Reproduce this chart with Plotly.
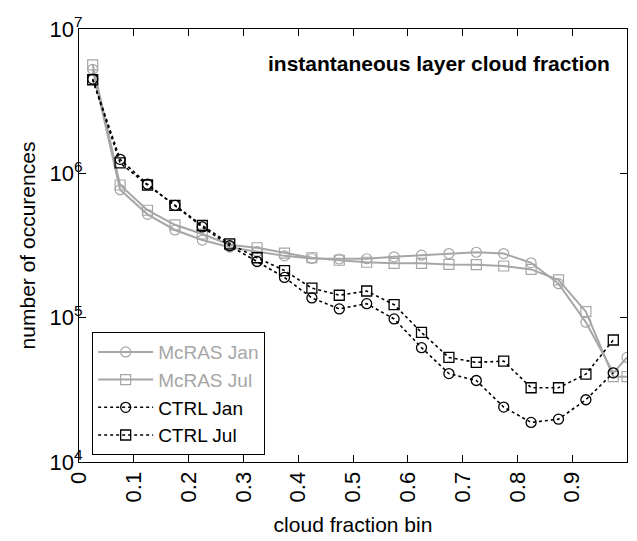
import plotly.graph_objects as go

# Cloud fraction bin centres (McRAS also has a fully-cloudy bin at 1.0)
bins = [0.025, 0.075, 0.125, 0.175, 0.225, 0.275, 0.325, 0.375, 0.425, 0.475,
        0.525, 0.575, 0.625, 0.675, 0.725, 0.775, 0.825, 0.875, 0.925, 0.975]
bins_mcras = bins + [1.0]

mcras_jan = [5.25e6, 7.7e5, 5.2e5, 4.05e5, 3.45e5, 3.08e5, 2.87e5, 2.68e5, 2.57e5, 2.55e5,
             2.56e5, 2.64e5, 2.71e5, 2.78e5, 2.84e5, 2.78e5, 2.4e5, 1.72e5, 9.3e4, 4.15e4, 5.3e4]
mcras_jul = [5.65e6, 8.3e5, 5.55e5, 4.4e5, 3.8e5, 3.2e5, 3.05e5, 2.8e5, 2.6e5, 2.5e5,
             2.42e5, 2.38e5, 2.38e5, 2.34e5, 2.33e5, 2.28e5, 2.16e5, 1.83e5, 1.1e5, 3.9e4, 3.9e4]
ctrl_jan = [4.5e6, 1.25e6, 8.4e5, 6.0e5, 4.25e5, 3.15e5, 2.45e5, 1.9e5, 1.37e5, 1.15e5,
            1.25e5, 9.8e4, 6.2e4, 4.1e4, 3.67e4, 2.4e4, 1.88e4, 1.98e4, 2.7e4, 4.15e4]
ctrl_jul = [4.45e6, 1.18e6, 8.3e5, 6.0e5, 4.35e5, 3.25e5, 2.6e5, 2.12e5, 1.6e5, 1.43e5,
            1.53e5, 1.23e5, 7.9e4, 5.3e4, 4.9e4, 5.0e4, 3.27e4, 3.27e4, 4.06e4, 7.0e4]

x_ticks = [0, 0.1, 0.2, 0.3, 0.4, 0.5, 0.6, 0.7, 0.8, 0.9, 1]
x_tick_text = ["0", "0.1", "0.2", "0.3", "0.4", "0.5", "0.6", "0.7", "0.8", "0.9", "1"]
y_ticks = [1e4, 1e5, 1e6, 1e7]
y_tick_text = ["10<sup>4</sup>", "10<sup>5</sup>", "10<sup>6</sup>", "10<sup>7</sup>"]

GREY = "#a6a6a6"
FONT = "Liberation Sans, Arial, sans-serif"

fig = go.Figure()
fig.add_trace(go.Scatter(
    x=bins_mcras, y=mcras_jan, mode="lines+markers",
    name=f"<span style='color:{GREY}'>McRAS Jan</span>",
    line=dict(color=GREY, width=2),
    marker=dict(symbol="circle-open", size=10, color=GREY, line=dict(width=1.2)),
))
fig.add_trace(go.Scatter(
    x=bins_mcras, y=mcras_jul, mode="lines+markers",
    name=f"<span style='color:{GREY}'>McRAS Jul</span>",
    line=dict(color=GREY, width=2),
    marker=dict(symbol="square-open", size=10, color=GREY, line=dict(width=1.2)),
))
fig.add_trace(go.Scatter(
    x=bins, y=ctrl_jan, mode="lines+markers", name="CTRL Jan",
    line=dict(color="black", width=1.6, dash="dot"),
    marker=dict(symbol="circle-open", size=10, color="black", line=dict(width=1.3)),
))
fig.add_trace(go.Scatter(
    x=bins, y=ctrl_jul, mode="lines+markers", name="CTRL Jul",
    line=dict(color="black", width=1.6, dash="dot"),
    marker=dict(symbol="square-open", size=10, color="black", line=dict(width=1.3)),
))

fig.add_annotation(
    x=0.972, y=0.921, xref="paper", yref="paper", xanchor="right", yanchor="middle",
    text="<b>instantaneous layer cloud fraction</b>", showarrow=False,
    font=dict(family=FONT, size=21, color="black"),
)

axis_common = dict(
    showgrid=False, zeroline=False, showline=True, linecolor="black", linewidth=1,
    mirror="ticks", ticks="inside", ticklen=7, tickcolor="black",
    tickfont=dict(family=FONT, size=22, color="black"),
)

fig.update_xaxes(
    range=[0, 1], tickvals=x_ticks, ticktext=x_tick_text, tickangle=-90,
    title=dict(text="cloud fraction bin", font=dict(family=FONT, size=21, color="black"),
               standoff=15),
    **axis_common,
)
fig.update_yaxes(
    type="log", range=[4, 7], tickvals=y_ticks, ticktext=y_tick_text,
    ticklabelstandoff=-9,
    title=dict(text="number of occurences", font=dict(family=FONT, size=21, color="black"),
               standoff=8),
    **axis_common,
)

fig.update_layout(
    width=637, height=541,
    margin=dict(l=79, r=9, t=29, b=73),
    paper_bgcolor="white", plot_bgcolor="white",
    font=dict(family=FONT, color="black"),
    legend=dict(
        x=0.024, y=0.016, xanchor="left", yanchor="bottom",
        bgcolor="white", bordercolor="black", borderwidth=1,
        font=dict(family=FONT, size=19, color="black"),
        itemwidth=55, tracegroupgap=0,
    ),
)

fig.write_html("out.html")
